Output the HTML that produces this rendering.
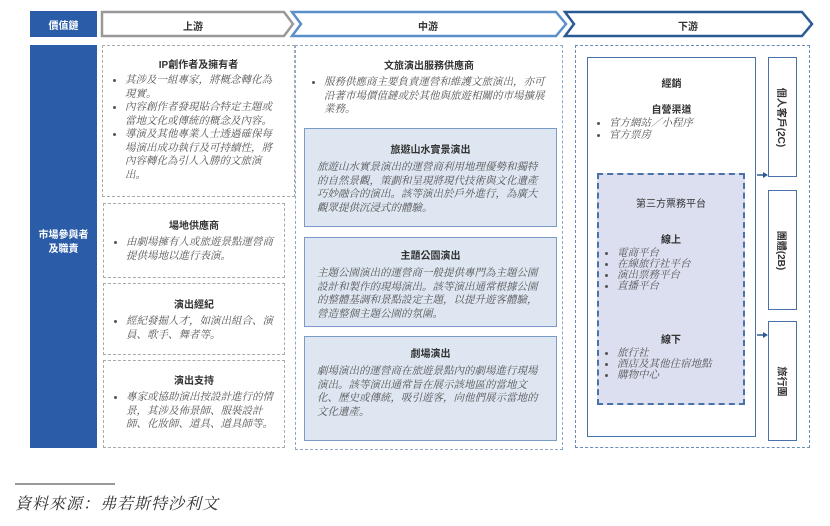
<!DOCTYPE html>
<html><head><meta charset="utf-8"><style>
body{margin:0;width:830px;height:526px;background:#fff;position:relative;overflow:hidden;font-family:"Liberation Sans","Noto Sans CJK TC",sans-serif;color:#333}
.a{position:absolute;box-sizing:border-box}
.t{font-size:10px;font-weight:bold;text-align:center;color:#333}
.it{font-family:"Liberation Serif","Noto Serif CJK SC",serif;font-style:italic;font-size:10.5px;line-height:13.5px;color:#555;letter-spacing:0}
ul{margin:0;padding-left:22px}
li{margin:0}
.dg{border:1px dashed #aaa}
.bb{background:#dde6f1;border:1.5px solid #7a9cc6}
.rb{border:1.5px solid #4a72a8;background:#fff;display:flex;align-items:center;justify-content:center}
.v{display:inline-block;transform:rotate(90deg);white-space:nowrap;font-size:10px;font-weight:bold;color:#333}
</style></head><body>
<svg class="a" style="left:0;top:0" width="830" height="526">
<polygon points="102,12 284,12 293,24 284,36 102,36" fill="#fff" stroke="#999" stroke-width="2.5"/>
<polygon points="292,12 556,12 566,24 556,36 292,36 301,24" fill="#fff" stroke="#5b8fc9" stroke-width="2.5"/>
<polygon points="565,12 802,12 812,24 802,36 565,36 574,24" fill="#fff" stroke="#2a5a96" stroke-width="2.5"/>
<line x1="757" y1="175" x2="764" y2="175" stroke="#2a5a96" stroke-width="1.5"/>
<polygon points="763,172 768,175 763,178" fill="#2a5a96"/>
<line x1="757" y1="335" x2="764" y2="335" stroke="#2a5a96" stroke-width="1.5"/>
<polygon points="763,332 768,335 763,338" fill="#2a5a96"/>
<line x1="15" y1="484" x2="115" y2="484" stroke="#333" stroke-width="1"/>
</svg>
<div class="a" style="left:30px;top:11px;width:67px;height:26px;background:#2a5ca8;color:#fff;font-size:10px;font-weight:bold;display:flex;align-items:center;justify-content:center">價值鏈</div>
<div class="a t" style="left:102px;top:18px;width:182px">上游</div>
<div class="a t" style="left:300px;top:18px;width:256px">中游</div>
<div class="a t" style="left:574px;top:18px;width:228px">下游</div>
<div class="a" style="left:30px;top:45px;width:67px;height:403px;background:#2a5ca8;color:#fff;font-size:10px;font-weight:bold;text-align:center;padding-top:184px;line-height:14px">市場參與者<br>及職責</div>

<div class="a dg" style="left:102px;top:45px;width:193px;height:152px;padding-top:10px">
<div class="t">IP創作者及擁有者</div>
<ul class="it" style="margin-top:3px;padding-right:20px"><li>其涉及一組專家，將概念轉化為現實。</li><li>內容創作者發現貼合特定主題或當地文化或傳統的概念及內容。</li><li>導演及其他專業人士透過確保每場演出成功執行及可持續性，將內容轉化為引人入勝的文旅演出。</li></ul></div>
<div class="a dg" style="left:103px;top:203px;width:182px;height:75px;padding-top:13px">
<div class="t">場地供應商</div><ul class="it" style="margin-top:4px;padding-right:10px"><li>由劇場擁有人或旅遊景點運營商提供場地以進行表演。</li></ul></div>
<div class="a dg" style="left:103px;top:283px;width:182px;height:72px;padding-top:12px">
<div class="t">演出經紀</div><ul class="it" style="margin-top:4px;padding-right:10px"><li>經紀發掘人才，如演出組合、演員、歌手、舞者等。</li></ul></div>
<div class="a dg" style="left:103px;top:360px;width:182px;height:88px;padding-top:11px">
<div class="t">演出支持</div><ul class="it" style="margin-top:4px;padding-right:10px"><li>專家或協助演出按設計進行的情景，其涉及佈景師、服裝設計師、化妝師、道具、道具師等。</li></ul></div>

<div class="a" style="left:295px;top:45px;width:268px;height:405px;border:1.5px dashed #8aa8cc;padding-top:11px">
<div class="t">文旅演出服務供應商</div>
<ul class="it" style="margin-top:4px;padding-left:28px;padding-right:16px"><li>服務供應商主要負責運營和維護文旅演出，亦可沿著市場價值鏈或於其他與旅遊相關的市場擴展業務。</li></ul></div>
<div class="a bb" style="left:304px;top:128px;width:253px;height:99px;padding:12px 12px 0">
<div class="t">旅遊山水實景演出</div><div class="it" style="margin-top:5px">旅遊山水實景演出的運營商利用地理優勢和獨特的自然景觀，策劃和呈現將現代技術與文化遺產巧妙融合的演出。該等演出於戶外進行，為廣大觀眾提供沉浸式的體驗。</div></div>
<div class="a bb" style="left:304px;top:237px;width:253px;height:90px;padding:9px 12px 0">
<div class="t">主題公園演出</div><div class="it" style="margin-top:5px">主題公園演出的運營商一般提供專門為主題公園設計和製作的現場演出。該等演出通常根據公園的整體基調和景點設定主題，以提升遊客體驗，營造整個主題公園的氛圍。</div></div>
<div class="a bb" style="left:304px;top:336px;width:253px;height:105px;padding:8px 12px 0">
<div class="t">劇場演出</div><div class="it" style="margin-top:5px">劇場演出的運營商在旅遊景點內的劇場進行現場演出。該等演出通常旨在展示該地區的當地文化、歷史或傳統，吸引遊客，向他們展示當地的文化遺產。</div></div>

<div class="a" style="left:575px;top:45px;width:235px;height:403px;border:1.5px dashed #6a8cb8"></div>
<div class="a" style="left:587px;top:57px;width:169px;height:380px;border:1.5px solid #4a72a8"></div>
<div class="a t" style="left:587px;top:75px;width:169px">經銷</div>
<div class="a t" style="left:587px;top:101px;width:169px">自營渠道</div>
<ul class="a it" style="left:595px;top:118px;padding-left:14px;line-height:12px"><li>官方網站／小程序</li><li>官方票房</li></ul>
<div class="a" style="left:597px;top:173px;width:148px;height:232px;background:#dcdff0;border:2px dashed #4a72a8"></div>
<div class="a t" style="left:597px;top:195px;width:148px;font-weight:normal">第三方票務平台</div>
<div class="a t" style="left:597px;top:231px;width:148px">線上</div>
<ul class="a it" style="left:603px;top:248px;padding-left:14px;line-height:11px"><li>電商平台</li><li>在線旅行社平台</li><li>演出票務平台</li><li>直播平台</li></ul>
<div class="a t" style="left:597px;top:331px;width:148px">線下</div>
<ul class="a it" style="left:603px;top:348px;padding-left:14px;line-height:11px"><li>旅行社</li><li>酒店及其他住宿地點</li><li>購物中心</li></ul>
<div class="a rb" style="left:768px;top:57px;width:29px;height:120px"><span class="v">個人客戶(2C)</span></div>
<div class="a rb" style="left:768px;top:190px;width:29px;height:120px"><span class="v">團體(2B)</span></div>
<div class="a rb" style="left:768px;top:321px;width:29px;height:120px"><span class="v">旅行團</span></div>

<div class="a" style="left:15px;top:491px;font-family:'Liberation Serif','Noto Serif CJK SC',serif;font-style:italic;font-size:16px;color:#333;letter-spacing:1px">資料來源：弗若斯特沙利文</div>
</body></html>
